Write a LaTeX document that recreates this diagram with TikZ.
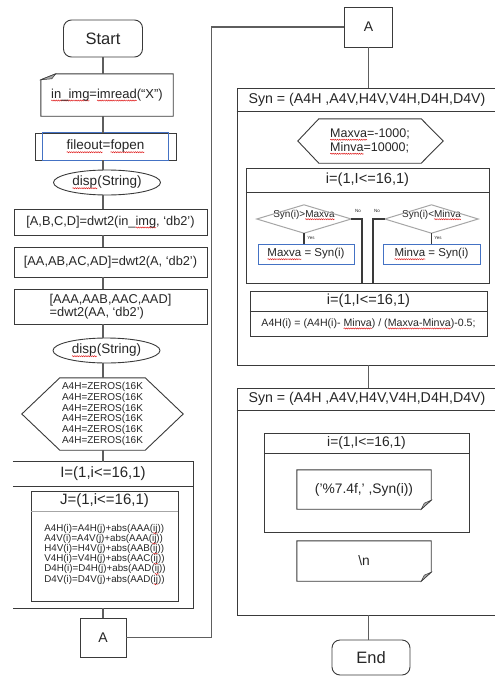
\documentclass[tikz,border=0pt]{standalone}
\usepackage{fontspec}
\setmainfont{Liberation Sans}
\usetikzlibrary{calc,shapes.geometric,decorations.pathmorphing}
\definecolor{edge}{HTML}{3A3A3A}
\definecolor{wire}{HTML}{5E5E5E}
\definecolor{txt}{HTML}{262626}
\definecolor{hue}{HTML}{4472C4}
\definecolor{rim}{HTML}{A6A6A6}
\definecolor{squig}{HTML}{E02020}
% font size / baseline skip
\newcommand\fsz[2]{\fontsize{#1}{#2}\selectfont}
% spell-checker style wavy red underline
\newsavebox\splbox
\newcommand\spl[1]{\leavevmode\sbox\splbox{#1}\tikz[overlay,baseline=0pt]\draw[squig,line width=0.5pt,decorate,decoration={snake,amplitude=0.55pt,segment length=2.2pt}] (0pt,-2.2pt) -- (\wd\splbox,-2.2pt);\usebox\splbox}
\begin{document}
\begin{tikzpicture}[x=1pt,y=-1pt,
  box/.style={draw=edge, line width=0.9pt, inner sep=0pt, text=txt},
  bare/.style={inner sep=0pt, text=txt},
  conn/.style={draw=wire, line width=1.2pt},
  outline/.style={draw=edge, line width=0.9pt},
  tag/.style={inner sep=0pt, text=txt, font=\fsz{4.5}{5}},
]
\clip (0,0) rectangle (495,677);
\fill[white] (0,0) rectangle (495,677);

%% ---------------- left column ----------------
\node[box, rounded corners=8pt, minimum width=79pt, minimum height=37pt, font=\fsz{16.5}{18}] (start) at (103,38.5) {Start};

\node[bare, minimum width=132pt, minimum height=42pt, font=\fsz{13}{15}] (inimg) at (107,95) {\spl{in\_img}=\spl{imread}(“X”)};
\draw[outline] ($(inimg.north west)+(0,6)$) -- ($(inimg.north west)+(15,0)$) -- (inimg.north east) -- (inimg.south east) -- (inimg.south west) -- cycle;
\filldraw[outline, fill=rim, line width=0.5pt] ($(inimg.north west)+(0,6)$) -- ($(inimg.north west)+(15,0)$) -- ($(inimg.north west)+(11,5)$) -- cycle;

\node[box, minimum width=141pt, minimum height=27pt, font=\fsz{13.5}{15}] (fopen) at (105.5,146.5) {\spl{fileout}=\spl{fopen}};
\draw[hue, line width=0.9pt] ($(fopen.north west)+(8,0)$) rectangle ($(fopen.south east)+(-8,0)$);

\node[box, ellipse, minimum width=107pt, minimum height=25pt, font=\fsz{13.5}{15}] (disp1) at (107,182.5) {\spl{disp}(String)};

\node[box, minimum width=193pt, minimum height=26pt, font=\fsz{12.8}{14}] (dwt1) at (110.5,222) {[A,B,C,D]=dwt2(in\_\spl{img}, ‘db2’)};
\node[box, minimum width=193pt, minimum height=30pt, font=\fsz{12.8}{14}] (dwt2) at (110.5,262) {[AA,AB,AC,AD]=dwt2(A, ‘db2’)};
\node[box, minimum width=193pt, minimum height=35pt, align=left, font=\fsz{12.8}{13.5}] (dwt3) at (110.5,306.5) {[AAA,AAB,AAC,AAD]\\=dwt2(AA, ‘db2’)};

\node[box, ellipse, minimum width=107pt, minimum height=25pt, font=\fsz{13.5}{15}] (disp2) at (106.5,350.5) {\spl{disp}(String)};

\node[bare, minimum width=85pt, minimum height=72pt, align=left, font=\fsz{10}{10.8}] (zeros) at (102.5,414) {A4H=ZEROS(16K\\A4H=ZEROS(16K\\A4H=ZEROS(16K\\A4H=ZEROS(16K\\A4H=ZEROS(16K\\A4H=ZEROS(16K};
\draw[outline] (zeros.north west) -- (zeros.north east) -- ($(zeros.east)+(38,0)$) -- (zeros.south east) -- (zeros.south west) -- ($(zeros.west)+(-38,0)$) -- cycle;

% outer loop, open on its left side
\node[bare, minimum width=180pt, minimum height=24pt, font=\fsz{15}{17}] (ihead) at (103,474) {I=(1,i<=16,1)};
\coordinate (ibot) at (103,608);
\draw[outline] (ihead.north west) -- (ihead.north east) -- (ihead.north east |- ibot) -- (ihead.north west |- ibot);
\draw[outline] (ihead.south west) -- (ihead.south east);

% inner loop
\node[box, minimum width=147pt, minimum height=110pt] (jbox) at (104.5,546) {};
\node[bare, minimum width=147pt, minimum height=20pt, font=\fsz{15}{17}] (jhead) at (104.5,501) {J=(1,i<=16,1)};
\draw[rim, line width=0.9pt] (jhead.south west) -- (jhead.south east);
\node[bare, align=left, font=\fsz{9.8}{10.2}] (jbody) at (105,554) {A4H(i)=A4H(j)+abs(AAA(\spl{ij}))\\A4V(i)=A4V(j)+abs(AAA(\spl{ij}))\\H4V(i)=H4V(j)+abs(AAB(\spl{ij}))\\V4H(i)=V4H(j)+abs(AAC(\spl{ij}))\\D4H(i)=D4H(j)+abs(AAD(\spl{ij}))\\D4V(i)=D4V(j)+abs(AAD(\spl{ij}))};

\node[box, minimum width=46pt, minimum height=39pt, font=\fsz{14}{16}] (aL) at (103,637.5) {A};

% left column connectors
\foreach \a/\b in {start/inimg, inimg/fopen, fopen/disp1, disp1/dwt1, dwt1/dwt2, dwt2/dwt3, dwt3/disp2, disp2/zeros, zeros/ihead}
  \draw[conn] (\a.south -| start.south) -- (\b.north -| start.south);
\draw[conn] (ibot) -- (aL.north);

%% ---------------- right column ----------------
\node[box, minimum width=48pt, minimum height=40pt, font=\fsz{14}{16}] (aR) at (368.5,27) {A};
\draw[conn] (aL.east) -- ++(85,0) |- (aR.west);

% first Syn block
\node[box, minimum width=268pt, minimum height=277pt] (syn1) at (371,226.5) {};
\node[bare, minimum height=23pt, font=\fsz{14.2}{16}] (syn1head) at (367,99.5) {Syn = (A4H ,A4V,H4V,V4H,D4H,D4V)};
\draw[outline] (syn1.west |- syn1head.south) -- (syn1.east |- syn1head.south);
\draw[conn] (aR.south) -- (syn1.north -| aR.south);

\node[bare, minimum width=102pt, minimum height=44pt, align=left, font=\fsz{12.5}{14}] (limits) at (370,141) {\spl{Maxva}=-1000;\\\spl{Minva}=10000;};
\draw[outline] (limits.north west) -- (limits.north east) -- ($(limits.east)+(22,0)$) -- (limits.south east) -- (limits.south west) -- ($(limits.west)+(-21,0)$) -- cycle;

\node[box, minimum width=243pt, minimum height=115pt] (loop1) at (367.5,225.5) {};
\node[bare, minimum width=243pt, minimum height=24pt, font=\fsz{14.6}{16}] (l1head) at (367.5,180) {i=(1,I<=16,1)};
\draw[outline] (l1head.south west) -- (l1head.south east);

\node[bare, minimum width=94pt, minimum height=28pt, text height=7pt, text depth=11pt, font=\fsz{10}{12}] (dL) at (304,219) {Syn(i)>\spl{Maxva}};
\draw[rim, line width=1pt] (dL.north) -- (dL.east) -- (dL.south) -- (dL.west) -- cycle;
\node[bare, minimum width=93pt, minimum height=28pt, text height=7pt, text depth=11pt, font=\fsz{10}{12}] (dR) at (431.5,219) {Syn(i)<\spl{Minva}};
\draw[rim, line width=1pt] (dR.north) -- (dR.east) -- (dR.south) -- (dR.west) -- cycle;

\node[box, draw=hue, minimum width=96pt, minimum height=20pt, font=\fsz{11.5}{13}] (pL) at (306,254) {\spl{Maxva} = Syn(i)};
\node[box, draw=hue, minimum width=97pt, minimum height=20pt, font=\fsz{11.5}{13}] (pR) at (431.5,254) {\spl{Minva} = Syn(i)};

\draw[conn, draw=edge] (dL.south) -- (dL.south |- pL.north);
\draw[conn, draw=edge] (dR.south) -- (dR.south |- pR.north);
\node[tag] (yesL) at (311,238) {Yes};
\node[tag] (yesR) at (438,238) {Yes};

\coordinate (noL) at (362,283);
\coordinate (noR) at (373,283);
\draw[conn, draw=edge] (dL.east) -| (noL);
\draw[conn, draw=edge] (dR.west) -| (noR);
\node[tag] (noLtag) at (358,211) {No};
\node[tag] (noRtag) at (377,211) {No};

\node[box, minimum width=237pt, minimum height=45pt] (loop2) at (368.5,313.5) {};
\node[bare, minimum width=237pt, minimum height=20pt, font=\fsz{14.6}{16}] (l2head) at (368.5,301) {i=(1,I<=16,1)};
\draw[outline] (l2head.south west) -- (l2head.south east);
\node[bare, font=\fsz{10.6}{12}] (l2body) at (368.5,323.5) {A4H(i) = (A4H(i)- \spl{Minva}) / (\spl{Maxva-Minva})-0.5;};

% second Syn block
\node[box, minimum width=268pt, minimum height=227pt] (syn2) at (371,501.5) {};
\node[bare, minimum height=22pt, font=\fsz{14.2}{16}] (syn2head) at (367,399) {Syn = (A4H ,A4V,H4V,V4H,D4H,D4V)};
\draw[outline] (syn2.west |- syn2head.south) -- (syn2.east |- syn2head.south);
\draw[conn] (syn1.south -| aR.south) -- (syn2.north -| aR.south);

\node[box, minimum width=205pt, minimum height=99pt] (loop3) at (366.5,482.5) {};
\node[bare, minimum width=205pt, minimum height=20pt, font=\fsz{13.8}{15}] (l3head) at (366.5,443) {i=(1,I<=16,1)};
\draw[outline] (l3head.south west) -- (l3head.south east);

\node[bare, minimum width=134pt, minimum height=39pt, font=\fsz{13.8}{15}] (doc1) at (364,489.5) {('\%7.4f,' ,Syn(i))};
\draw[outline] (doc1.north west) -- (doc1.north east) -- ($(doc1.south east)+(0,-9)$) -- ($(doc1.south east)+(-10,0)$) -- (doc1.south west) -- cycle;
\filldraw[outline, fill=rim, line width=0.5pt] ($(doc1.south east)+(0,-9)$) -- ($(doc1.south east)+(-10,0)$) -- ($(doc1.south east)+(-7,-6)$) -- cycle;

\node[bare, minimum width=134pt, minimum height=40pt, font=\fsz{13.8}{15}] (doc2) at (364,561) {\textbackslash n};
\draw[outline] (doc2.north west) -- (doc2.north east) -- ($(doc2.south east)+(0,-9)$) -- ($(doc2.south east)+(-10,0)$) -- (doc2.south west) -- cycle;
\filldraw[outline, fill=rim, line width=0.5pt] ($(doc2.south east)+(0,-9)$) -- ($(doc2.south east)+(-10,0)$) -- ($(doc2.south east)+(-7,-6)$) -- cycle;

\node[box, rounded corners=8pt, minimum width=78pt, minimum height=35pt, font=\fsz{16.5}{18}] (stop) at (371,657.5) {End};
\draw[conn] (syn2.south -| aR.south) -- (stop.north -| aR.south);
\end{tikzpicture}
\end{document}
